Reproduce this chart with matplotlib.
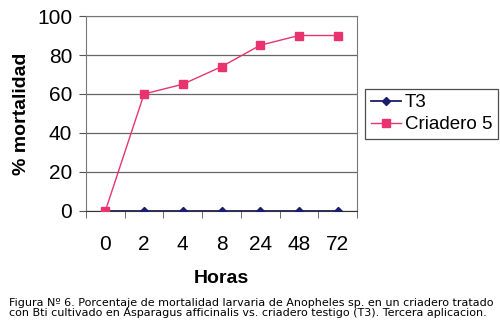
import numpy as np
import matplotlib
matplotlib.use("Agg")
import matplotlib.pyplot as plt

plt.rcParams['font.family'] = ['Liberation Sans', 'DejaVu Sans']

horas = ['0', '2', '4', '8', '24', '48', '72']
t3 = [0, 0, 0, 0, 0, 0, 0]
criadero5 = [0, 60, 65, 74, 85, 90, 90]

caption = ("Figura Nº 6. Porcentaje de mortalidad larvaria de Anopheles sp. en un criadero tratado\n"
           "con Bti cultivado en Asparagus afficinalis vs. criadero testigo (T3). Tercera aplicacion.")

fig = plt.figure(figsize=(5.0, 3.27), dpi=100)
ax = fig.add_axes([0.172, 0.355, 0.542, 0.596])

x = np.arange(len(horas))
ax.plot(x, t3, color='#1c1c6e', marker='D', markersize=3.8, lw=1.3,
        label='T3', zorder=3)
ax.plot(x, criadero5, color='#e8336e', marker='s', markersize=6, lw=1.0,
        label='Criadero 5', zorder=4)

ax.set_xlim(-0.5, 6.5)
ax.set_ylim(0, 100)
ax.set_yticks(np.arange(0, 101, 20))
ax.set_xticks(x)
ax.set_xticklabels(horas)
ax.set_xticks(np.arange(-0.5, 7, 1), minor=True)
ax.tick_params(axis='x', which='major', length=0, pad=17, labelsize=15)
ax.tick_params(axis='x', which='minor', length=5, direction='out', color='#555555')
ax.tick_params(axis='y', length=5, direction='out', color='#555555', pad=5, labelsize=15)
ax.grid(axis='y', color='#666666', lw=0.9)
ax.set_axisbelow(True)
for s in ax.spines.values():
    s.set_color('#777777')
ax.spines['bottom'].set_color('#333333')

ax.set_ylabel('% mortalidad', fontsize=14, fontweight='bold', labelpad=5)
ax.set_xlabel('Horas', fontsize=14, fontweight='bold', labelpad=12)

leg = ax.legend(loc='center', bbox_to_anchor=(0.863, 0.652), bbox_transform=fig.transFigure,
                fontsize=13.5, frameon=True, fancybox=False, handlelength=1.6,
                handletextpad=0.2, borderpad=0.3, labelspacing=0.25, borderaxespad=0)
leg.get_frame().set_edgecolor('#222222')
leg.get_frame().set_linewidth(0.9)

fig.text(0.018, 0.058, caption, fontsize=8.0, family='DejaVu Sans',
         ha='left', va='center', linespacing=1.1)

fig.savefig('out.png', dpi=100)
